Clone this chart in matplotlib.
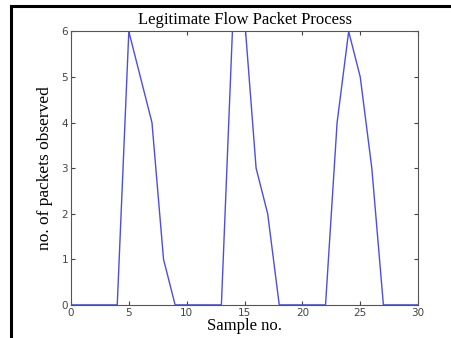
"""
Legitimate flow packet process - sample counts
"""
import matplotlib
matplotlib.use("Agg")
import matplotlib.pyplot as plt
from matplotlib.lines import Line2D

sample_no = list(range(0, 31))
packets = [0, 0, 0, 0, 0, 6, 5, 4, 1, 0,
           0, 0, 0, 0, 6.3, 6.3, 3, 2, 0, 0,
           0, 0, 0, 4, 6, 5, 3, 0, 0, 0, 0]

x_ticks = [0, 5, 10, 15, 20, 25, 30]
y_ticks = [0, 1, 2, 3, 4, 5, 6]

fig = plt.figure(figsize=(4.52, 3.38), dpi=100)
ax = fig.add_axes([0.157, 0.098, 0.768, 0.809])

ax.plot(sample_no, packets, color="#4a4ee6", linewidth=1.0, clip_on=True)
ax.set_xlim(0, 30)
ax.set_ylim(0, 6)
ax.set_xticks(x_ticks)
ax.set_yticks(y_ticks)

# matlab style ticks: inward on every side
ax.tick_params(direction="in", top=True, right=True, length=3,
               labelsize=7.5, colors="#444444", pad=2)
for sp in ax.spines.values():
    sp.set_color("#555555")
    sp.set_linewidth(0.8)

serif = ["Liberation Serif", "DejaVu Serif"]
ax.set_title("Legitimate Flow Packet Process", family=serif, fontsize=12, pad=5)
ax.set_xlabel("Sample no.", family=serif, fontsize=12, labelpad=0)
ax.set_ylabel("no. of packets observed", family=serif, fontsize=12.5, labelpad=6)

# black frame along top and left edges of the image
fig.add_artist(Line2D([10.5 / 452, 1], [1 - 5.5 / 338, 1 - 5.5 / 338],
                      color="black", linewidth=2.2, transform=fig.transFigure))
fig.add_artist(Line2D([11 / 452, 11 / 452], [0, 1 - 5.5 / 338],
                      color="black", linewidth=2.2, transform=fig.transFigure))

fig.savefig("out.png", dpi=100)
